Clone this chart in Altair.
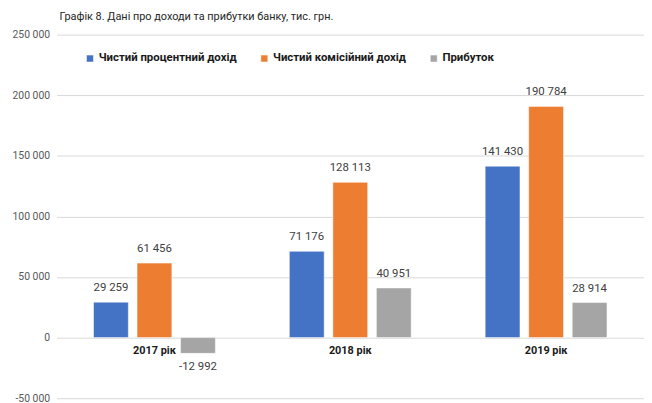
import altair as alt
import pandas as pd

years = ["2017 рік", "2018 рік", "2019 рік"]
series = ["Чистий процентний дохід", "Чистий комісійний дохід", "Прибуток"]
net_interest = [29259, 71176, 141430]
net_commission = [61456, 128113, 190784]
profit = [-12992, 40951, 28914]
colors = ["#4472C4", "#ED7D31", "#A5A5A5"]
y_ticks = [-50000, 0, 50000, 100000, 150000, 200000, 250000]

rows = []
for s, vals in zip(series, [net_interest, net_commission, profit]):
    for yr, v in zip(years, vals):
        rows.append({"year": yr, "series": s, "value": v})
df = pd.DataFrame(rows)

FONT = "Roboto"
W, H = 593, 367

x = alt.X("year:N", sort=years, title=None,
          scale=alt.Scale(paddingInner=0, paddingOuter=0),
          axis=alt.Axis(orient="bottom", offset=-H / 6, domain=False, ticks=False,
                        labelAngle=0, labelFontWeight="bold", labelFontSize=11,
                        labelColor="#1a1a1a", labelPadding=7, labelFont=FONT))
xo = alt.XOffset("series:N", sort=series,
                 scale=alt.Scale(paddingInner=0.2, paddingOuter=0.85))
y = alt.Y("value:Q", title=None,
          scale=alt.Scale(domain=[-50000, 250000], nice=False),
          axis=alt.Axis(values=y_ticks, format=",d", domain=False, ticks=False,
                        labelColor="#595959", labelFontSize=10.5, labelPadding=7,
                        labelFont=FONT, gridColor="#d9d9d9", gridWidth=1))
color = alt.Color("series:N", sort=series,
                  scale=alt.Scale(domain=series, range=colors),
                  legend=alt.Legend(orient="none", legendX=28, legendY=18,
                                    direction="horizontal", title=None,
                                    symbolType="square", symbolSize=49,
                                    symbolStrokeWidth=0, labelFontSize=11.5,
                                    labelFontWeight="bold", labelFont=FONT,
                                    labelColor="#1a1a1a", columnPadding=22,
                                    labelOffset=3))

base = alt.Chart(df).encode(x=x, xOffset=xo)

bars = base.mark_bar().encode(y=y, color=color)

pos_text = base.transform_filter("datum.value >= 0").mark_text(
    baseline="alphabetic", dy=-11, fontSize=11.5, font=FONT, color="#404040"
).encode(y=alt.Y("value:Q"), text=alt.Text("value:Q", format=",d"))

neg_text = base.transform_filter("datum.value < 0").mark_text(
    baseline="alphabetic", dy=17, fontSize=11.5, font=FONT, color="#404040"
).encode(y=alt.Y("value:Q"), text=alt.Text("value:Q", format=",d"))

chart = alt.layer(bars, pos_text, neg_text).properties(
    width=W, height=H,
    title=alt.TitleParams("Графік 8. Дані про доходи та прибутки банку, тис. грн.",
                          anchor="start", frame="group", dx=3, offset=8,
                          fontSize=11, fontWeight="normal", font=FONT,
                          color="#262626"),
    autosize=alt.AutoSizeParams(type="none"),
    padding={"left": 49, "top": 25, "right": 0, "bottom": 6},
).configure_view(stroke=None).configure_bar(
    stroke="white", strokeWidth=0.5
)

chart.save("out.html", embed_options={
    "renderer": "svg", "actions": False,
    "formatLocale": {"decimal": ",", "thousands": "\u00a0", "grouping": [3],
                     "currency": ["", " грн"], "minus": "-"}})
